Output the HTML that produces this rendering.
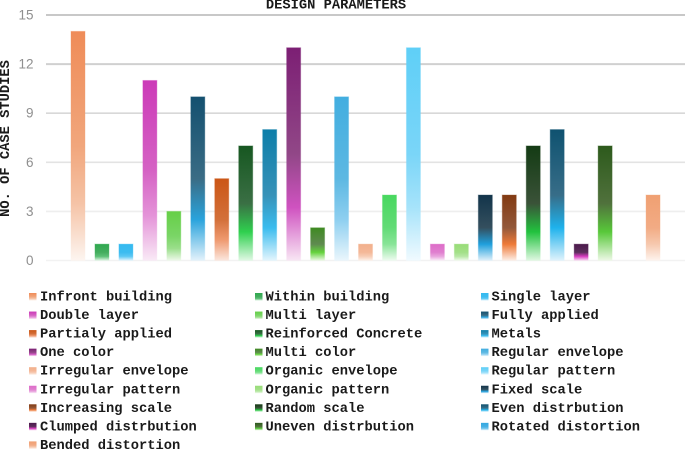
<!DOCTYPE html>
<html lang="en">
<head>
<meta charset="utf-8">
<title>Design Parameters</title>
<style>
html,body{margin:0;padding:0;background:#fff;width:685px;height:449px;overflow:hidden}
svg{display:block}
.mono{font-family:"Liberation Mono",monospace;font-weight:bold;font-size:13.75px;fill:#1a1a1a}
.tick{font-family:"Liberation Sans",sans-serif;font-size:13.5px;fill:#8f8f8f}
</style>
</head>
<body>
<svg id="chart" xmlns="http://www.w3.org/2000/svg" width="685" height="449" viewBox="0 0 685 449">
  <defs id="gradients"></defs>
  <text class="mono" x="336" y="8.5" text-anchor="middle">DESIGN PARAMETERS</text>
  <text class="mono" transform="translate(9,138.5) rotate(-90)" text-anchor="middle">NO. OF CASE STUDIES</text>
  <g id="grid"></g>
  <g id="bars"></g>
  <g id="legend"></g>
</svg>
<script>
const categories = ["Infront building","Within building","Single layer","Double layer","Multi layer","Fully applied","Partialy applied","Reinforced Concrete","Metals","One color","Multi color","Regular envelope","Irregular envelope","Organic envelope","Regular pattern","Irregular pattern","Organic pattern","Fixed scale","Increasing scale","Random scale","Even distrbution","Clumped distrbution","Uneven distrbution","Rotated distortion","Bended distortion"];
const seriesValues = [14,1,1,11,3,10,5,7,8,13,2,10,1,4,13,1,1,4,4,7,8,1,7,0,4];
const tickLabels = [0,3,6,9,12,15];
const gridColors = ["#f2f2f2","#eeeeee","#e3e3e3","#d8d8d8","#d0d0d0","#c8c8c8"];
const palettes = [
 ['#ef8c58','#f1a67c','#f5c3a6','#fdf5f0'],
 ['#2fa84f','#44ad5e','#5cc076','#dff5e3'],
 ['#35baf0','#3cbcf0','#5cc8f4','#e0f4fd'],
 ['#cc3ab8','#d562c4','#e493d8','#f9eaf6'],
 ['#66cf47','#7ad566','#9ade8a','#eef9ea'],
 ['#14506f','#3a6c85','#2aa3dc','#e3f2fb'],
 ['#cb5616','#d3703a','#ef9a70','#fbe7de'],
 ['#175721','#3a6f44','#2fd04e','#e0f8e4'],
 ['#0d7ea9','#3792b8','#3abcee','#e3f5fd'],
 ['#7c1f74','#914787','#cf52c0','#f8e6f4'],
 ['#3f8a22','#5f8a50','#64d23c','#eaf8e2'],
 ['#42aee0','#5db8e2','#8ecff0','#eaf6fc'],
 ['#f2b08c','#f4b898','#f7cdb6','#fdf0e8'],
 ['#48d85f','#62db76','#88e497','#eefbf0'],
 ['#5fcff7','#7ad5f8','#a6e3fa','#f0faff'],
 ['#dd6cc8','#e07fcf','#e9a5de','#faeef8'],
 ['#98dc78','#a3e088','#b8e8a6','#f0faeb'],
 ['#12344a','#344f5e','#1f9fdc','#dff0fa'],
 ['#823a12','#93583a','#ee7a38','#fdeee6'],
 ['#143b14','#3a5238','#22c23e','#e0f8e2'],
 ['#0f5270','#376d88','#1fb2ec','#e0f3fc'],
 ['#4c1a4c','#5c2e5c','#d83cc0','#f8dcf2'],
 ['#2d5a1c','#50713c','#58c83a','#edf8e6'],
 ['#35a8e0','#45b0e4','#70c4ec','#e8f6fc'],
 ['#f0a072','#f2ab84','#f6c8ae','#fef4ee']
];
const NS = 'http://www.w3.org/2000/svg';
const stopOffsets = [0, 0.5, 0.75, 1];
const yAxis = v => 260.5 - v * (245.5 / 15);
const xAxis = i => 78 + i * 23.96;
const make = (tag, attrs, parent) => {
  const el = document.createElementNS(NS, tag);
  for (const k in attrs) el.setAttribute(k, attrs[k]);
  parent.appendChild(el);
  return el;
};
const slug = s => s.toLowerCase().replace(/[^a-z0-9]+/g, '-');
const defs = document.getElementById('gradients');
const grid = document.getElementById('grid');
const bars = document.getElementById('bars');
const legend = document.getElementById('legend');

palettes.forEach((stops, i) => {
  const g = make('linearGradient', {id: 'grad' + i, x1: 0, y1: 0, x2: 0, y2: 1}, defs);
  stops.forEach((c, j) => make('stop', {offset: stopOffsets[j], 'stop-color': c}, g));
});

tickLabels.forEach((t, i) => {
  const y = yAxis(t);
  const line = make('line', {x1: 46, x2: 685, y1: y, y2: y, stroke: gridColors[i], 'stroke-width': i > 3 ? 2 : 1.6}, grid);
  
  
  const label = make('text', {class: 'tick', x: 33.5, y: y + 4.5, 'text-anchor': 'end'}, grid);
  label.textContent = t;
  
  
});

seriesValues.forEach((v, i) => {
  const top = yAxis(v);
  const bar = make('rect', {x: xAxis(i) - 7, y: top, width: 14, height: yAxis(0) - top, fill: 'url(#grad' + i + ')', stroke: 'url(#grad' + i + ')', 'stroke-opacity': 0.35, 'stroke-width': 1}, bars);
  
  
});

const legendSwatchX = [29, 255, 481];
const legendTextX = [40, 265.5, 491.5];
categories.forEach((name, i) => {
  const col = i % 3;
  const row = Math.floor(i / 3);
  const base = 300.5 + row * 18.55;
  const entry = make('g', {}, legend);
  
  
  const swatch = make('rect', {x: legendSwatchX[col], y: base - 7.5, width: 7.5, height: 7.5, fill: 'url(#grad' + i + ')'}, entry);
  
  
  const text = make('text', {class: 'mono', x: legendTextX[col], y: base}, entry);
  text.textContent = name;
  
  
});
</script>
</body>
</html>
